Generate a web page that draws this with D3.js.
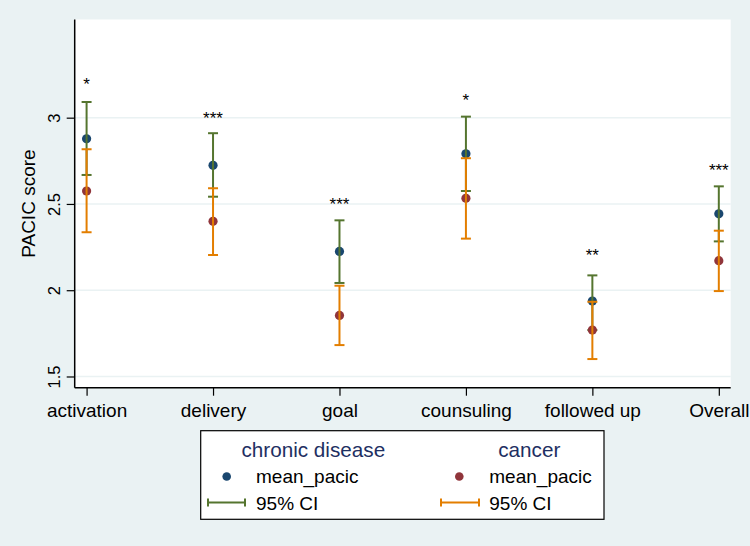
<!DOCTYPE html>
<html>
<head>
<meta charset="utf-8">
<script src="https://cdn.jsdelivr.net/npm/d3@7"></script>
<style>
  html, body { margin: 0; padding: 0; background: #EAF2F3; }
  svg { display: block; }
  text { font-family: "Liberation Sans", Arial, Helvetica, sans-serif; }
</style>
</head>
<body>
<svg id="chart" width="750" height="546"></svg>
<script>
// ---- data ----
const categories = ["activation", "delivery", "goal", "counsuling", "followed up", "Overall"];
const chronicMean = [2.878, 2.724, 2.225, 2.791, 1.937, 2.443];
const chronicLo   = [2.668, 2.542, 2.042, 2.575, 1.769, 2.283];
const chronicHi   = [3.091, 2.910, 2.405, 3.006, 2.086, 2.602];
const cancerMean  = [2.575, 2.399, 1.854, 2.533, 1.769, 2.171];
const cancerLo    = [2.336, 2.204, 1.682, 2.299, 1.601, 1.995];
const cancerHi    = [2.817, 2.591, 2.026, 2.765, 1.933, 2.345];
const sigLabels   = ["*", "***", "***", "*", "**", "***"];
const sigPos      = [3.161, 2.963, 2.467, 3.066, 2.167, 2.664];
const yTicks      = [1.5, 2, 2.5, 3];
const yDomain     = [1.435, 3.569];
const yTitle      = "PACIC score";
const groupNames  = ["chronic disease", "cancer"];
const legendItems = ["mean_pacic", "95% CI"];

// ---- styles ----
const C = { bg: "#EAF2F3", blue: "#1A476F", red: "#90353B", green: "#55752F", orange: "#E37E00", head: "#1E2F62" };
const plot = { left: 74.7, right: 730.7, top: 19.5, bottom: 387.7 };

const svg = d3.select("#chart");
svg.append("rect").attr("width", 750).attr("height", 546).attr("fill", C.bg);
svg.append("rect").attr("x", plot.left).attr("y", plot.top)
  .attr("width", plot.right - plot.left).attr("height", plot.bottom - plot.top).attr("fill", "#fff");

const x = d3.scalePoint().domain(categories).range([plot.left, plot.right]).padding(0.094);
const y = d3.scaleLinear().domain(yDomain).range([plot.bottom, plot.top]);

// gridlines
svg.append("g").selectAll("line").data(yTicks).join("line")
  .attr("x1", plot.left).attr("x2", plot.right)
  .attr("y1", d => y(d)).attr("y2", d => y(d))
  .attr("stroke", C.bg).attr("stroke-width", 1.6);

// y axis
const yAxis = svg.append("g").attr("transform", `translate(${plot.left},0)`)
  .call(d3.axisLeft(y).tickValues(yTicks).tickSize(8).tickSizeOuter(0).tickPadding(7).tickFormat(d3.format("")));
yAxis.select(".domain").attr("d", `M0,${plot.top}V${plot.bottom}`).attr("stroke", "#000").attr("stroke-width", 1.5);
yAxis.selectAll(".tick line").attr("stroke", "#000").attr("stroke-width", 1.2);
yAxis.selectAll(".tick text")
  .attr("x", null).attr("dy", null)
  .attr("transform", "translate(-15,0) rotate(-90)")
  .attr("text-anchor", "middle").attr("font-size", 16.5).attr("fill", "#000");

// x axis
const xAxis = svg.append("g").attr("transform", `translate(0,${plot.bottom})`)
  .call(d3.axisBottom(x).tickSize(8).tickSizeOuter(0).tickPadding(6));
xAxis.select(".domain").attr("d", `M${plot.left},0H${plot.right}`).attr("stroke", "#000").attr("stroke-width", 1.5);
xAxis.selectAll(".tick line").attr("stroke", "#000").attr("stroke-width", 1.2);
xAxis.selectAll(".tick text").attr("font-size", 19).attr("fill", "#000").attr("dy", null).attr("y", 29.5);

// y title
svg.append("text").attr("transform", `translate(35,${(plot.top + plot.bottom) / 2}) rotate(-90)`)
  .attr("text-anchor", "middle").attr("font-size", 19).attr("fill", "#000").text(yTitle);

// error bar helper
function drawCI(g, lo, hi, color) {
  const capW = 5;
  const grp = g.append("g").attr("stroke", color).attr("stroke-width", 2).attr("fill", "none");
  categories.forEach((c, i) => {
    const cx = x(c);
    grp.append("line").attr("x1", cx).attr("x2", cx).attr("y1", y(lo[i])).attr("y2", y(hi[i]));
    grp.append("line").attr("x1", cx - capW).attr("x2", cx + capW).attr("y1", y(lo[i])).attr("y2", y(lo[i]));
    grp.append("line").attr("x1", cx - capW).attr("x2", cx + capW).attr("y1", y(hi[i])).attr("y2", y(hi[i]));
  });
}
function drawDots(g, vals, color) {
  g.append("g").selectAll("circle").data(vals).join("circle")
    .attr("cx", (d, i) => x(categories[i])).attr("cy", d => y(d)).attr("r", 4.6).attr("fill", color);
}
const marks = svg.append("g");
drawDots(marks, chronicMean, C.blue);
drawCI(marks, chronicLo, chronicHi, C.green);
drawDots(marks, cancerMean, C.red);
drawCI(marks, cancerLo, cancerHi, C.orange);

// significance stars
svg.append("g").selectAll("text").data(sigLabels).join("text")
  .attr("x", (d, i) => x(categories[i])).attr("y", (d, i) => y(sigPos[i]))
  .attr("text-anchor", "middle").attr("font-size", 17).attr("fill", "#000").text(d => d);

// legend
const lg = svg.append("g");
lg.append("rect").attr("x", 200.7).attr("y", 430.7).attr("width", 403.3).attr("height", 88.6)
  .attr("fill", "#fff").attr("stroke", "#000").attr("stroke-width", 1.2);
const cols = [
  { head: 313.3, dot: 226.7, ci: [208, 245], text: 256, dotColor: C.blue, ciColor: C.green },
  { head: 529.3, dot: 459.3, ci: [441, 479], text: 489.3, dotColor: C.red, ciColor: C.orange }
];
cols.forEach((col, k) => {
  lg.append("text").attr("x", col.head).attr("y", 456.7).attr("text-anchor", "middle")
    .attr("font-size", 20.7).attr("fill", C.head).text(groupNames[k]);
  lg.append("circle").attr("cx", col.dot).attr("cy", 476.5).attr("r", 4.3).attr("fill", col.dotColor);
  lg.append("text").attr("x", col.text).attr("y", 482.5).attr("font-size", 19).attr("fill", "#000").text(legendItems[0]);
  const cg = lg.append("g").attr("stroke", col.ciColor).attr("stroke-width", 2);
  cg.append("line").attr("x1", col.ci[0]).attr("x2", col.ci[1]).attr("y1", 502.5).attr("y2", 502.5);
  cg.append("line").attr("x1", col.ci[0]).attr("x2", col.ci[0]).attr("y1", 498.5).attr("y2", 506.5);
  cg.append("line").attr("x1", col.ci[1]).attr("x2", col.ci[1]).attr("y1", 498.5).attr("y2", 506.5);
  lg.append("text").attr("x", col.text).attr("y", 509.5).attr("font-size", 19).attr("fill", "#000").text(legendItems[1]);
});
</script>
</body>
</html>
